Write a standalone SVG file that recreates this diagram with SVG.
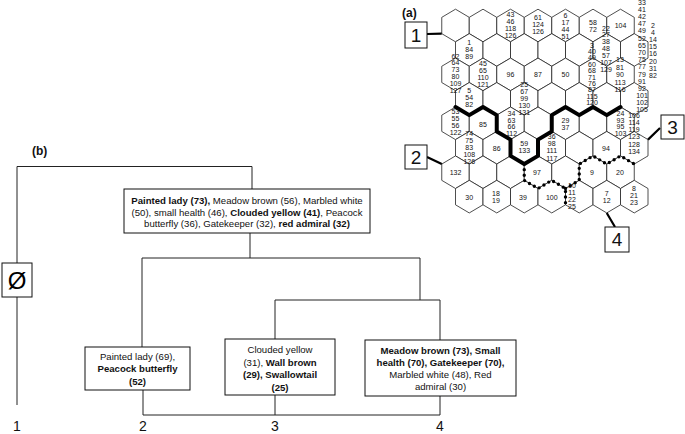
<svg xmlns="http://www.w3.org/2000/svg" xmlns:xlink="http://www.w3.org/1999/xlink" width="685" height="434" viewBox="0 0 685 434">
<style>
.hx{fill:#fff;stroke:#222;stroke-width:0.8}
.n{font-family:"Liberation Sans",Arial,sans-serif;font-size:7px;fill:#111;text-anchor:middle}
.t{font-family:"Liberation Sans",Arial,sans-serif;font-size:9.6px;fill:#111;text-anchor:middle}
.b{font-weight:bold}
.box{fill:#fff;stroke:#111;stroke-width:1}
.ln{fill:none;stroke:#222;stroke-width:1}
.big{font-family:"Liberation Sans",Arial,sans-serif;font-size:19px;fill:#111;text-anchor:middle}
.lab{font-family:"Liberation Sans",Arial,sans-serif;font-size:12px;font-weight:bold;fill:#111}
.leaf{font-family:"Liberation Sans",Arial,sans-serif;font-size:14px;fill:#111;text-anchor:middle}
</style>
<defs>
<polygon id="h" points="0,-16.3 13.75,-8.15 13.75,8.15 0,16.3 -13.75,8.15 -13.75,-8.15"/>
</defs>
<rect width="685" height="434" fill="#fff"/>
<text class="lab" x="402" y="17">(a)</text>
<g id="hexgrid" class="hx">
<use xlink:href="#h" x="455.5" y="25.5"/><use xlink:href="#h" x="483" y="25.5"/><use xlink:href="#h" x="510.5" y="25.5"/><use xlink:href="#h" x="538" y="25.5"/><use xlink:href="#h" x="565.5" y="25.5"/><use xlink:href="#h" x="593" y="25.5"/><use xlink:href="#h" x="620.5" y="25.5"/>
<use xlink:href="#h" x="469.25" y="49.95"/><use xlink:href="#h" x="496.75" y="49.95"/><use xlink:href="#h" x="524.25" y="49.95"/><use xlink:href="#h" x="551.75" y="49.95"/><use xlink:href="#h" x="579.25" y="49.95"/><use xlink:href="#h" x="606.75" y="49.95"/><use xlink:href="#h" x="634.25" y="49.95"/>
<use xlink:href="#h" x="455.5" y="74.4"/><use xlink:href="#h" x="483" y="74.4"/><use xlink:href="#h" x="510.5" y="74.4"/><use xlink:href="#h" x="538" y="74.4"/><use xlink:href="#h" x="565.5" y="74.4"/><use xlink:href="#h" x="593" y="74.4"/><use xlink:href="#h" x="620.5" y="74.4"/>
<use xlink:href="#h" x="469.25" y="98.85"/><use xlink:href="#h" x="496.75" y="98.85"/><use xlink:href="#h" x="524.25" y="98.85"/><use xlink:href="#h" x="551.75" y="98.85"/><use xlink:href="#h" x="579.25" y="98.85"/><use xlink:href="#h" x="606.75" y="98.85"/><use xlink:href="#h" x="634.25" y="98.85"/>
<use xlink:href="#h" x="455.5" y="123.3"/><use xlink:href="#h" x="483" y="123.3"/><use xlink:href="#h" x="510.5" y="123.3"/><use xlink:href="#h" x="538" y="123.3"/><use xlink:href="#h" x="565.5" y="123.3"/><use xlink:href="#h" x="593" y="123.3"/><use xlink:href="#h" x="620.5" y="123.3"/>
<use xlink:href="#h" x="469.25" y="147.75"/><use xlink:href="#h" x="496.75" y="147.75"/><use xlink:href="#h" x="524.25" y="147.75"/><use xlink:href="#h" x="551.75" y="147.75"/><use xlink:href="#h" x="579.25" y="147.75"/><use xlink:href="#h" x="606.75" y="147.75"/><use xlink:href="#h" x="634.25" y="147.75"/>
<use xlink:href="#h" x="455.5" y="172.2"/><use xlink:href="#h" x="483" y="172.2"/><use xlink:href="#h" x="510.5" y="172.2"/><use xlink:href="#h" x="538" y="172.2"/><use xlink:href="#h" x="565.5" y="172.2"/><use xlink:href="#h" x="593" y="172.2"/><use xlink:href="#h" x="620.5" y="172.2"/>
<use xlink:href="#h" x="469.25" y="196.65"/><use xlink:href="#h" x="496.75" y="196.65"/><use xlink:href="#h" x="524.25" y="196.65"/><use xlink:href="#h" x="551.75" y="196.65"/><use xlink:href="#h" x="579.25" y="196.65"/><use xlink:href="#h" x="606.75" y="196.65"/><use xlink:href="#h" x="634.25" y="196.65"/>
</g>
<g id="borders">
<path d="M455.5,107 L469.25,115.15 L483,107 L496.75,115.15 L496.75,131.45 L510.5,139.6 L510.5,155.9 L524.25,164.05 L538,155.9 L538,139.6 L551.75,131.45 L551.75,115.15 L565.5,107 L579.25,115.15 L593,107 L606.75,115.15 L620.5,107" fill="none" stroke="#000" stroke-width="4" stroke-linejoin="round" stroke-linecap="round"/>
<path d="M524.25,164.05 L524.25,180.35 L538,188.5 L551.75,180.35 L565.5,188.5 L565.5,204.8 M565.5,188.5 L579.25,180.35 L579.25,164.05 L593,155.9 L606.75,164.05 L620.5,155.9 L634.25,164.05" fill="none" stroke="#000" stroke-width="3.4" stroke-dasharray="0 5.6" stroke-linecap="round"/>
</g>
<g id="hexlabels" class="n" opacity="0.99">
<text x="510.5" y="16.5">43<tspan x="510.5" dy="7">46</tspan><tspan x="510.5" dy="7">118</tspan><tspan x="510.5" dy="7">126</tspan></text>
<text x="538" y="20">61<tspan x="538" dy="7">124</tspan><tspan x="538" dy="7">126</tspan></text>
<text x="565.5" y="17.5">6<tspan x="565.5" dy="7">17</tspan><tspan x="565.5" dy="7">44</tspan><tspan x="565.5" dy="7">51</tspan></text>
<text x="593" y="24.5">58<tspan x="593" dy="7">72</tspan></text>
<text x="620.5" y="28">104</text>
<text x="642" y="4.5">33<tspan x="642" dy="7.2">41</tspan><tspan x="642" dy="7.2">42</tspan><tspan x="642" dy="7.2">47</tspan><tspan x="642" dy="7.2">49</tspan><tspan x="642" dy="7.2">52</tspan><tspan x="642" dy="7.2">65</tspan><tspan x="642" dy="7.2">70</tspan><tspan x="642" dy="7.2">75</tspan><tspan x="642" dy="7.2">77</tspan><tspan x="642" dy="7.2">79</tspan><tspan x="642" dy="7.2">91</tspan><tspan x="642" dy="7.2">92</tspan><tspan x="642" dy="7.2">101</tspan><tspan x="642" dy="7.2">102</tspan><tspan x="642" dy="7.2">105</tspan></text>
<text x="653" y="27.5">2<tspan x="653" dy="7.2">4</tspan><tspan x="653" dy="7.2">14</tspan><tspan x="653" dy="7.2">15</tspan><tspan x="653" dy="7.2">16</tspan><tspan x="653" dy="7.2">20</tspan><tspan x="653" dy="7.2">31</tspan><tspan x="653" dy="7.2">82</tspan></text>
<text x="469.25" y="45">1<tspan x="469.25" dy="7">84</tspan><tspan x="469.25" dy="7">89</tspan></text>
<text x="606" y="31">22<tspan x="606" dy="6">27</tspan><tspan x="606" dy="7">38</tspan><tspan x="606" dy="7">48</tspan><tspan x="606" dy="7">57</tspan><tspan x="606" dy="7">107</tspan><tspan x="606" dy="7">129</tspan></text>
<text x="455.5" y="58.5">62<tspan x="455.5" dy="6.9">64</tspan><tspan x="455.5" dy="6.9">73</tspan><tspan x="455.5" dy="6.9">80</tspan><tspan x="455.5" dy="6.9">109</tspan><tspan x="455.5" dy="6.9">127</tspan></text>
<text x="483" y="65.5">45<tspan x="483" dy="7.3">65</tspan><tspan x="483" dy="7.3">110</tspan><tspan x="483" dy="7.3">121</tspan></text>
<text x="510.5" y="77">96</text>
<text x="538" y="77">87</text>
<text x="565.5" y="77">50</text>
<text x="592" y="47.5">3<tspan x="592" dy="6.4">40</tspan><tspan x="592" dy="6.4">49</tspan><tspan x="592" dy="6.4">60</tspan><tspan x="592" dy="6.4">68</tspan><tspan x="592" dy="6.4">71</tspan><tspan x="592" dy="6.4">76</tspan><tspan x="592" dy="6.4">87</tspan><tspan x="592" dy="6.4">115</tspan><tspan x="592" dy="6.4">120</tspan></text>
<text x="620" y="62">13<tspan x="620" dy="7.5">81</tspan><tspan x="620" dy="7.5">90</tspan><tspan x="620" dy="7.5">113</tspan><tspan x="620" dy="7.5">116</tspan></text>
<text x="469.25" y="93">5<tspan x="469.25" dy="7">54</tspan><tspan x="469.25" dy="7">82</tspan></text>
<text x="524.25" y="86.5">25<tspan x="524.25" dy="7">67</tspan><tspan x="524.25" dy="7">99</tspan><tspan x="524.25" dy="7">130</tspan><tspan x="524.25" dy="7">131</tspan></text>
<text x="455.5" y="114">53<tspan x="455.5" dy="7">55</tspan><tspan x="455.5" dy="7">56</tspan><tspan x="455.5" dy="7">122</tspan></text>
<text x="483" y="126.5">85</text>
<text x="511.5" y="116">34<tspan x="511.5" dy="6.7">63</tspan><tspan x="511.5" dy="6.7">66</tspan><tspan x="511.5" dy="6.7">112</tspan></text>
<text x="565.5" y="122.5">29<tspan x="565.5" dy="7">37</tspan></text>
<text x="620.5" y="116">24<tspan x="620.5" dy="6.7">93</tspan><tspan x="620.5" dy="6.7">95</tspan><tspan x="620.5" dy="6.7">103</tspan></text>
<text x="634" y="117.5">106<tspan x="634" dy="7.3">114</tspan><tspan x="634" dy="7.3">119</tspan><tspan x="634" dy="7.3">123</tspan><tspan x="634" dy="7.3">128</tspan><tspan x="634" dy="7.3">134</tspan></text>
<text x="469.25" y="136">74<tspan x="469.25" dy="7">75</tspan><tspan x="469.25" dy="7">83</tspan><tspan x="469.25" dy="7">108</tspan><tspan x="469.25" dy="7">126</tspan></text>
<text x="496.75" y="150.5">86</text>
<text x="524.25" y="146">59<tspan x="524.25" dy="7">133</tspan></text>
<text x="551.75" y="139">36<tspan x="551.75" dy="7.2">98</tspan><tspan x="551.75" dy="7.2">111</tspan><tspan x="551.75" dy="7.2">117</tspan></text>
<text x="606" y="151">94</text>
<text x="455.5" y="175">132</text>
<text x="537" y="174.5">97</text>
<text x="592" y="174.5">9</text>
<text x="620" y="174.5">20</text>
<text x="469.25" y="199.5">30</text>
<text x="496" y="196">18<tspan x="496" dy="7">19</tspan></text>
<text x="523" y="199.5">39</text>
<text x="551.75" y="199.5">100</text>
<text x="572" y="187.5">10<tspan x="572" dy="7.2">11</tspan><tspan x="572" dy="7.2">22</tspan><tspan x="572" dy="7.2">25</tspan></text>
<text x="606.75" y="196">7<tspan x="606.75" dy="7">12</tspan></text>
<text x="634" y="191">8<tspan x="634" dy="7">21</tspan><tspan x="634" dy="7">23</tspan></text>
</g>
<g id="markers">
<path d="M427,34 L441.75,33.65 M427,157 L441.75,164.05 M660,128 L648,139.6 M606.75,212.95 L615,227" fill="none" stroke="#000" stroke-width="2.2"/>
<g id="m1"><rect class="box" x="405" y="22" width="22" height="26"/><text class="big" x="416" y="42">1</text></g>
<g id="m2"><rect class="box" x="405" y="145" width="22" height="24"/><text class="big" x="416" y="164">2</text></g>
<g id="m3"><rect class="box" x="661" y="115" width="23" height="24"/><text class="big" x="672.5" y="134">3</text></g>
<g id="m4"><rect class="box" x="605" y="227" width="24" height="25"/><text class="big" x="617" y="246">4</text></g>
</g>
<text class="lab" x="32" y="155">(b)</text>
<g id="connectors" class="ln">
<path d="M17,166.5 H252 V189"/>
<path d="M17,166.5 V405"/>
<path d="M250,233 V258 M142,258 H420 M142,258 V347 M420,258 V300 M275,300 H440 M275,300 V339 M440,300 V340"/>
<path d="M143,390 V415 H440 M275,395 V415 M440,396 V415"/>
</g>
<g id="root"><rect class="box" x="2" y="263" width="30" height="34"/><text x="17" y="289" font-family="Liberation Sans,Arial,sans-serif" font-size="24" text-anchor="middle">Ø</text></g>
<g id="node234"><rect class="box" x="124" y="189" width="246" height="44"/>
<text class="t" x="247" y="204"><tspan class="b">Painted lady (73),</tspan> Meadow brown (56), Marbled white</text>
<text class="t" x="247" y="215.5">(50), small health (46), <tspan class="b">Clouded yellow (41)</tspan>, Peacock</text>
<text class="t" x="247" y="227">butterfly (36), Gatekeeper (32), <tspan class="b">red admiral (32)</tspan></text>
</g>
<g id="node2"><rect class="box" x="85" y="347" width="105" height="43"/>
<text class="t" x="137.5" y="359.5">Painted lady (69),</text>
<text class="t b" x="137.5" y="372">Peacock butterfly</text>
<text class="t b" x="137.5" y="385">(52)</text>
</g>
<g id="node3"><rect class="box" x="225" y="339" width="110" height="56"/>
<text class="t" x="280" y="352.5">Clouded yellow</text>
<text class="t" x="280" y="365.5">(31), <tspan class="b">Wall brown</tspan></text>
<text class="t b" x="280" y="378">(29), Swallowtail</text>
<text class="t b" x="280" y="390.5">(25)</text>
</g>
<g id="node4"><rect class="box" x="365" y="340" width="151" height="56"/>
<text class="t b" x="440.5" y="353.5">Meadow brown (73), Small</text>
<text class="t b" x="440.5" y="365.5">health (70), Gatekeeper (70),</text>
<text class="t" x="440.5" y="377.5">Marbled white (48), Red</text>
<text class="t" x="440.5" y="389.5">admiral (30)</text>
</g>
<g id="leaves">
<text class="leaf" x="17" y="431">1</text>
<text class="leaf" x="143" y="431">2</text>
<text class="leaf" x="275" y="431">3</text>
<text class="leaf" x="440" y="431">4</text>
</g>
</svg>
